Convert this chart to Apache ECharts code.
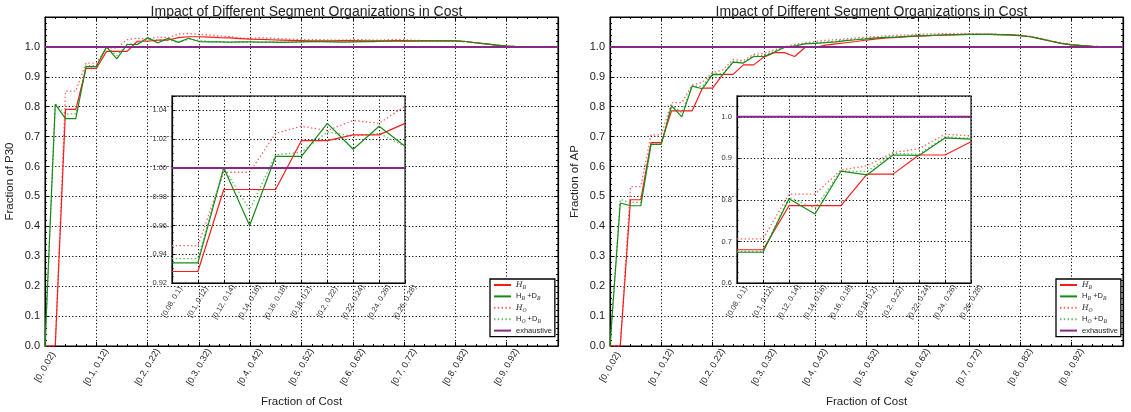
<!DOCTYPE html>
<html>
<head>
<meta charset="utf-8">
<script src="https://cdn.jsdelivr.net/npm/echarts@6/dist/echarts.min.js"></script>
<style>
html,body{margin:0;padding:0;background:#fff;}
#chart{width:1131px;height:412px;}
</style>
</head>
<body>
<div id="chart"></div>
<script>
// ---------------- data ----------------
const titleText = "Impact of Different Segment Organizations in Cost";
const xTickLabels = ["[0, 0.02)","[0.1, 0.12)","[0.2, 0.22)","[0.3, 0.32)","[0.4, 0.42)","[0.5, 0.52)","[0.6, 0.62)","[0.7, 0.72)","[0.8, 0.82)","[0.9, 0.92)"];
const insetCategories = ["[0.08, 0.1)","[0.1, 0.12)","[0.12, 0.14)","[0.14, 0.16)","[0.16, 0.18)","[0.18, 0.2)","[0.2, 0.22)","[0.22, 0.24)","[0.24, 0.26)","[0.26, 0.28)"];
const insetStart = 4;
const seriesNames = ["H_O","H_O+D_B","H_B","H_B+D_B","exhaustive"];
const legendOrder = ["H_B","H_B+D_B","H_O","H_O+D_B","exhaustive"];

// Fraction of P30 (left chart), one value per cost bin
const p30_HB   = [0,0,0.791,0.791,0.928,0.928,0.985,0.985,0.985,1.019,1.019,1.023,1.023,1.031,1.034,1.034,1.033,1.031,1.030,1.028,1.026,1.025,1.024,1.023,1.022,1.021,1.020,1.020,1.020,1.021,1.021,1.020,1.020,1.020,1.021,1.021,1.020,1.020,1.020,1.020,1.020,1.018,1.014,1.010,1.006,1.003,1.001,1.000,1.000,1.000];
const p30_HBDB = [0,0.808,0.760,0.760,0.934,0.934,1.000,0.960,1.008,1.008,1.031,1.013,1.029,1.015,1.029,1.018,1.017,1.017,1.016,1.017,1.017,1.016,1.016,1.015,1.016,1.017,1.018,1.018,1.017,1.016,1.017,1.018,1.018,1.019,1.019,1.019,1.019,1.020,1.020,1.020,1.020,1.018,1.014,1.010,1.006,1.003,1.001,1.000,1.000,1.000];
const p30_HO   = [0,0,0.852,0.852,0.946,0.946,0.997,0.997,1.024,1.029,1.026,1.033,1.031,1.043,1.045,1.042,1.040,1.037,1.034,1.030,1.028,1.031,1.029,1.027,1.026,1.025,1.024,1.024,1.023,1.023,1.024,1.024,1.023,1.023,1.025,1.024,1.022,1.021,1.021,1.020,1.020,1.018,1.014,1.010,1.006,1.003,1.001,1.000,1.000,1.000];
const p30_HODB = [0,0.810,0.776,0.776,0.937,0.937,1.000,0.971,1.009,1.011,1.025,1.022,1.024,1.015,1.026,1.022,1.018,1.016,1.015,1.015,1.016,1.016,1.017,1.016,1.016,1.017,1.018,1.018,1.018,1.017,1.017,1.018,1.019,1.019,1.019,1.020,1.020,1.020,1.020,1.020,1.019,1.017,1.013,1.009,1.006,1.003,1.001,1.000,1.000,1.000];

// Fraction of AP (right chart)
const ap_HB   = [0,0,0.489,0.489,0.680,0.680,0.786,0.786,0.786,0.862,0.862,0.908,0.908,0.940,0.940,0.966,0.981,0.981,0.968,0.998,0.998,1.006,1.010,1.014,1.018,1.023,1.027,1.030,1.032,1.034,1.036,1.038,1.039,1.040,1.041,1.042,1.042,1.042,1.041,1.040,1.038,1.034,1.027,1.019,1.012,1.007,1.004,1.002,1.001,1.000];
const ap_HBDB = [0,0.478,0.469,0.469,0.674,0.674,0.803,0.766,0.869,0.860,0.908,0.907,0.949,0.946,0.968,0.968,0.982,0.998,1.003,1.010,1.012,1.014,1.017,1.021,1.024,1.027,1.030,1.032,1.033,1.035,1.037,1.038,1.039,1.040,1.041,1.042,1.042,1.042,1.041,1.040,1.038,1.034,1.027,1.019,1.012,1.007,1.004,1.002,1.001,1.000];
const ap_HO   = [0,0,0.533,0.533,0.706,0.706,0.814,0.814,0.872,0.882,0.914,0.923,0.958,0.954,0.975,0.978,0.990,1.000,1.008,1.014,1.018,1.022,1.024,1.027,1.030,1.033,1.035,1.037,1.039,1.040,1.042,1.043,1.044,1.044,1.044,1.044,1.043,1.043,1.042,1.041,1.039,1.035,1.028,1.020,1.013,1.008,1.004,1.002,1.001,1.000];
const ap_HODB = [0,0.490,0.480,0.480,0.676,0.676,0.806,0.780,0.870,0.868,0.912,0.910,0.952,0.948,0.970,0.972,0.985,1.000,1.005,1.012,1.014,1.016,1.019,1.023,1.026,1.029,1.031,1.033,1.034,1.036,1.038,1.039,1.040,1.041,1.042,1.042,1.042,1.042,1.041,1.040,1.038,1.034,1.027,1.019,1.012,1.007,1.004,1.002,1.001,1.000];

// exhaustive baseline (bin edges 0..50)
const exhaustive = [1,1,1,1,1,1,1,1,1,1,1,1,1,1,1,1,1,1,1,1,1,1,1,1,1,1,1,1,1,1,1,1,1,1,1,1,1,1,1,1,1,1,1,1,1,1,1,1,1,1,1];

// ---------------- styling ----------------
const FONT = "'Liberation Sans', Arial, sans-serif";
const lineStyles = {
  "H_O":        {color:'#ff5c5c', type:[1.4,2.4], width:1.3},
  "H_O+D_B":    {color:'#5cb85c', type:[1.4,2.4], width:1.3},
  "H_B":        {color:'#ff1a1a', type:'solid', width:1.2},
  "H_B+D_B":    {color:'#178a17', type:'solid', width:1.2},
  "exhaustive": {color:'#852985', type:'solid', width:2}
};
const legendLabels = {
  "H_B": "{it|H}{isub|B}",
  "H_B+D_B": "{rm|H}{isub|B}{rm| +D}{isub|B}",
  "H_O": "{it|H}{isub|O}",
  "H_O+D_B": "{rm|H}{isub|O}{rm| +D}{isub|B}",
  "exhaustive": "{rm|exhaustive}"
};
const legendRich = {
  it:   {fontFamily:"'DejaVu Serif', serif", fontStyle:'italic', fontSize:7.5, color:'#222', lineHeight:10, verticalAlign:'middle'},
  rm:   {fontFamily:FONT, fontSize:7.5, color:'#222', lineHeight:10, verticalAlign:'middle'},
  isub: {fontFamily:"'DejaVu Serif', serif", fontStyle:'italic', fontSize:5, color:'#222', lineHeight:10, verticalAlign:'bottom', padding:[4,0,0,0]}
};

const dotted = {color:'#000', type:[1.2,2.2], width:1};

// layout
const L = {left:45, top:17, width:513, height:329};
const R = {left:610, top:17, width:513, height:329};
const LI = {left:172, top:96, width:233, height:187};
const RI = {left:737, top:96, width:234, height:187};

function mainGrid(g){ return Object.assign({show:true, borderColor:'#000', borderWidth:1, backgroundColor:'#fff', z:0, outerBoundsMode:'none', containLabel:false}, g); }
function insetGrid(g){ return Object.assign({show:true, borderColor:'#444', borderWidth:1.5, backgroundColor:'#fff', z:5, outerBoundsMode:'none', containLabel:false}, g); }

function mainXAxes(gi){
  return [{
    type:'value', gridIndex:gi, min:0, max:50, interval:5, z:1,
    axisLine:{show:true, onZero:false, lineStyle:{color:'#000', width:1.2}},
    axisTick:{show:true, inside:true, length:4, lineStyle:{color:'#000'}},
    minorTick:{show:true, splitNumber:5, length:2, lineStyle:{color:'#000'}},
    splitLine:{show:true, lineStyle:dotted},
    axisLabel:{rotate:60, align:'center', verticalAlign:'middle', margin:21, fontSize:9, fontFamily:FONT, color:'#222',
      showMaxLabel:true,
      formatter:function(v){ const k=Math.round(v/5); return (Math.abs(v-5*k)<1e-6 && xTickLabels[k]) ? xTickLabels[k] : ''; }},
    name:'Fraction of Cost', nameLocation:'middle', nameGap:50,
    nameTextStyle:{fontSize:11.5, fontFamily:FONT, color:'#222'}
  },{
    type:'value', gridIndex:gi, min:0, max:50, interval:5, position:'top', z:1,
    axisLine:{show:true, onZero:false, lineStyle:{color:'#000', width:1.2}},
    axisTick:{show:true, inside:true, length:4, lineStyle:{color:'#000'}},
    minorTick:{show:true, splitNumber:5, length:2, lineStyle:{color:'#000'}},
    splitLine:{show:false}, axisLabel:{show:false}
  }];
}
function mainYAxes(gi, name){
  return [{
    type:'value', gridIndex:gi, min:0, max:1.1, interval:0.1, z:1,
    axisLine:{show:true, onZero:false, lineStyle:{color:'#000', width:1.2}},
    axisTick:{show:true, inside:true, length:4, lineStyle:{color:'#000'}},
    minorTick:{show:true, splitNumber:5, length:2, lineStyle:{color:'#000'}},
    splitLine:{show:true, lineStyle:dotted},
    axisLabel:{fontSize:11, fontFamily:FONT, color:'#222', margin:5, showMaxLabel:false,
      formatter:function(v){ return v.toFixed(1); }},
    name:name, nameLocation:'middle', nameGap:29,
    nameTextStyle:{fontSize:11.5, fontFamily:FONT, color:'#222'}
  },{
    type:'value', gridIndex:gi, min:0, max:1.1, interval:0.1, position:'right', z:1,
    axisLine:{show:true, onZero:false, lineStyle:{color:'#000', width:1.2}},
    axisTick:{show:true, inside:true, length:4, lineStyle:{color:'#000'}},
    minorTick:{show:true, splitNumber:5, length:2, lineStyle:{color:'#000'}},
    splitLine:{show:false}, axisLabel:{show:false}
  }];
}
function insetXAxis(gi){
  return {
    type:'category', gridIndex:gi, data:insetCategories, boundaryGap:false, z:6,
    axisLine:{show:true, onZero:false, lineStyle:{color:'#000', width:1.2}},
    axisTick:{show:true, inside:true, length:3, interval:0, lineStyle:{color:'#000'}},
    splitLine:{show:true, interval:0, lineStyle:dotted},
    axisLabel:{interval:0, rotate:60, align:'center', verticalAlign:'middle', margin:19, fontSize:7.5, fontFamily:FONT, color:'#333'}
  };
}
function insetYAxis(gi, min, max, step, digits){
  return {
    type:'value', gridIndex:gi, min:min, max:max, interval:step, z:6,
    axisLine:{show:true, onZero:false, lineStyle:{color:'#000', width:1.2}},
    axisTick:{show:true, inside:true, length:3, lineStyle:{color:'#000'}},
    minorTick:{show:true, splitNumber:4, length:1.5, lineStyle:{color:'#000'}},
    splitLine:{show:true, lineStyle:dotted},
    axisLabel:{fontSize:7.5, fontFamily:FONT, color:'#333', margin:5, showMaxLabel:false,
      formatter:function(v){ return v.toFixed(digits); }}
  };
}

function buildSeries(xi, yi, dataMap, inset){
  return seriesNames.map(function(name){
    const arr = dataMap[name];
    const data = inset ? arr.slice(insetStart, insetStart + insetCategories.length)
                       : arr.map(function(v,i){ return [i, v]; });
    return {
      type:'line', name:name, xAxisIndex:xi, yAxisIndex:yi, data:data,
      symbol:'none', showSymbol:false, smooth:false, clip:true,
      z: inset ? 7 : 2,
      lineStyle:lineStyles[name], itemStyle:{color:lineStyles[name].color},
      emphasis:{disabled:true}
    };
  });
}

function legendFor(left){
  return {
    left:left, top:279, orient:'vertical', z:20,
    data:legendOrder, selectedMode:false,
    backgroundColor:'#fff', borderColor:'#000', borderWidth:1.3, borderRadius:0,
    padding:[2,3,2,3], itemGap:2.4, itemWidth:17, itemHeight:10,
    itemStyle:{color:'rgba(0,0,0,0)', borderColor:'rgba(0,0,0,0)', borderWidth:0, opacity:0},
    formatter:function(n){ return legendLabels[n]; },
    textStyle:{fontSize:7.5, fontFamily:FONT, color:'#222', rich:legendRich}
  };
}

const p30Map = {"H_B":p30_HB, "H_B+D_B":p30_HBDB, "H_O":p30_HO, "H_O+D_B":p30_HODB, "exhaustive":exhaustive};
const apMap  = {"H_B":ap_HB,  "H_B+D_B":ap_HBDB,  "H_O":ap_HO,  "H_O+D_B":ap_HODB,  "exhaustive":exhaustive};

const option = {
  animation:false,
  backgroundColor:'#fff',
  title:[
    {text:titleText, left:L.left + L.width/2, textAlign:'center', top:0, textStyle:{fontSize:14, fontWeight:'normal', fontFamily:FONT, color:'#222'}},
    {text:titleText, left:R.left + R.width/2, textAlign:'center', top:0, textStyle:{fontSize:14, fontWeight:'normal', fontFamily:FONT, color:'#222'}}
  ],
  legend:[legendFor(490), legendFor(1056)],
  grid:[mainGrid(L), insetGrid(LI), mainGrid(R), insetGrid(RI)],
  xAxis:[].concat(mainXAxes(0), [insetXAxis(1)], mainXAxes(2), [insetXAxis(3)]),
  yAxis:[].concat(mainYAxes(0,'Fraction of P30'), [insetYAxis(1,0.92,1.05,0.02,2)], mainYAxes(2,'Fraction of AP'), [insetYAxis(3,0.6,1.05,0.1,1)]),
  series:[].concat(
    buildSeries(0,0,p30Map,false),
    buildSeries(2,2,p30Map,true),
    buildSeries(3,3,apMap,false),
    buildSeries(5,5,apMap,true)
  )
};

const chart = echarts.init(document.getElementById('chart'), null, {renderer:'canvas'});
chart.setOption(option);
</script>
</body>
</html>
